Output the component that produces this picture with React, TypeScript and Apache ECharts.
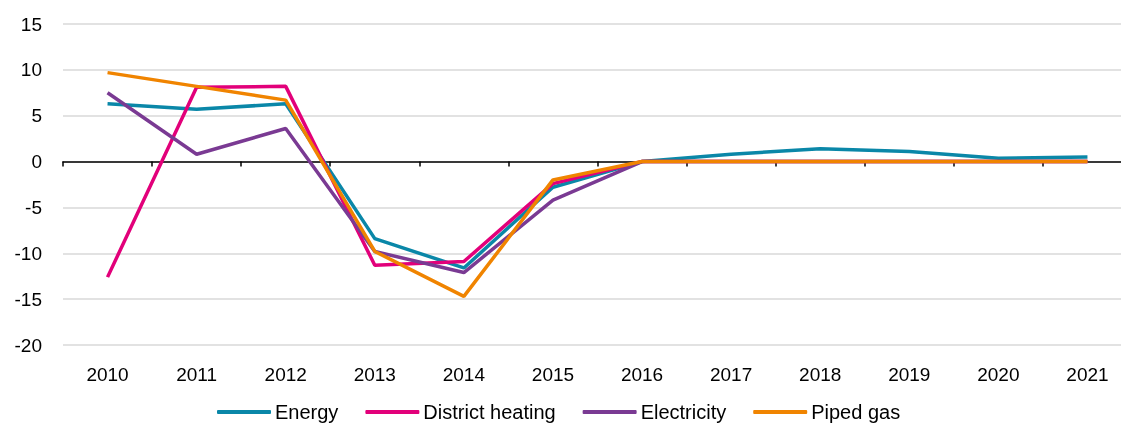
import React, { useEffect, useRef } from "react";
import * as echarts from "echarts";

const years = ["2010", "2011", "2012", "2013", "2014", "2015", "2016", "2017", "2018", "2019", "2020", "2021"];
const energy = [6.3, 5.7, 6.3, -8.4, -11.6, -2.8, 0, 0.8, 1.4, 1.1, 0.35, 0.5];
const districtHeating = [-12.6, 8.1, 8.2, -11.3, -10.9, -2.4, 0, 0, 0, 0, 0, 0];
const electricity = [7.5, 0.8, 3.6, -9.8, -12.1, -4.2, 0, 0, 0, 0, 0, 0];
const pipedGas = [9.7, 8.2, 6.7, -9.8, -14.7, -2.0, 0, 0, 0, 0, 0, 0];

const colors = ["#0a87a8", "#e2007a", "#7a3a93", "#f08400"];
const names = ["Energy", "District heating", "Electricity", "Piped gas"];

export default function App() {
  const ref = useRef<HTMLDivElement>(null);
  useEffect(() => {
    if (!ref.current) return;
    const chart = echarts.init(ref.current, undefined, { renderer: "svg" });
    const font = "'Liberation Sans', Arial, sans-serif";
    const data = [energy, districtHeating, electricity, pipedGas];
    chart.setOption({
      animation: false,
      color: colors,
      grid: { left: 63, top: 24, right: 0, bottom: 78, containLabel: false },
      legend: {
        top: 397,
        left: 212,
        icon: "roundRect",
        itemWidth: 54,
        itemHeight: 4,
        itemGap: 27,
        textStyle: { fontFamily: font, fontSize: 20, color: "#000", padding: [0, 0, 0, -1] },
        data: names,
      },
      xAxis: [
        {
          type: "category",
          data: years,
          position: "bottom",
          axisLine: { show: false, onZero: false },
          axisTick: { show: false },
          axisLabel: { fontFamily: font, fontSize: 19, color: "#000", margin: 20 },
          splitLine: { show: false },
        },
        {
          type: "category",
          data: years,
          position: "bottom",
          axisLine: { show: true, onZero: true, lineStyle: { color: "#000", width: 1.5 } },
          axisTick: { show: true, length: 5, lineStyle: { color: "#000", width: 1.5 } },
          axisLabel: { show: false },
          splitLine: { show: false },
        },
      ],
      yAxis: {
        type: "value",
        min: -20,
        max: 15,
        interval: 5,
        axisLine: { show: false },
        axisTick: { show: false },
        axisLabel: { fontFamily: font, fontSize: 19, color: "#000", margin: 21 },
        splitLine: { lineStyle: { color: "#d9d9d9", width: 1.5 } },
      },
      series: names.map((n, i) => ({
        name: n,
        type: "line",
        xAxisIndex: 0,
        data: data[i],
        symbol: "none",
        lineStyle: { width: 3.5, color: colors[i] },
        itemStyle: { color: colors[i] },
        z: 3 + i,
      })),
    });
    return () => chart.dispose();
  }, []);
  return (
    <div style={{ position: "fixed", left: 0, top: 0, width: 1121, height: 423, overflow: "hidden" }}>
      <div ref={ref} style={{ width: 1132, height: 423 }} />
    </div>
  );
}
